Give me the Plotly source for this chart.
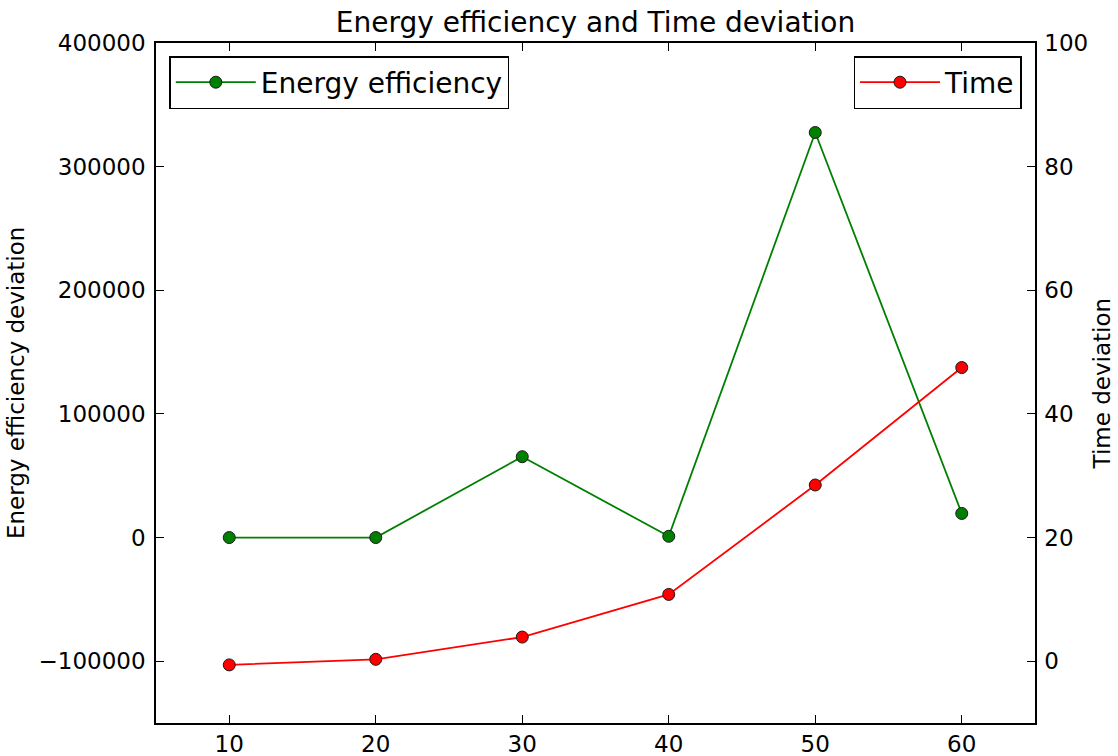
import plotly.graph_objects as go

# ---- data ----
x_vals = [10, 20, 30, 40, 50, 60]
energy_dev = [0, 0, 65400, 1000, 327600, 19500]
time_dev = [-0.6, 0.3, 3.9, 10.8, 28.5, 47.5]

title_text = "Energy efficiency and Time deviation"
left_label = "Energy efficiency deviation"
right_label = "Time deviation"
FONT = "DejaVu Sans"
TICK_SIZE = 23
BIG_SIZE = 28

fig = go.Figure()
fig.add_trace(go.Scatter(
    x=x_vals, y=energy_dev, mode="lines+markers", name="Energy efficiency",
    line=dict(color="#008000", width=1.8),
    marker=dict(color="#008000", size=12, line=dict(color="#1a1a1a", width=1)),
    yaxis="y", legend="legend",
))
fig.add_trace(go.Scatter(
    x=x_vals, y=time_dev, mode="lines+markers", name="Time",
    line=dict(color="#ff0000", width=1.8),
    marker=dict(color="#ff0000", size=12, line=dict(color="#1a1a1a", width=1)),
    yaxis="y2", legend="legend2",
))

axis_common = dict(
    showgrid=False, zeroline=False, showline=True, linecolor="black", linewidth=1.5,
    ticks="inside", ticklen=8, tickwidth=1, tickcolor="black", automargin=False,
    tickfont=dict(family=FONT, size=TICK_SIZE, color="black"),
)

legend_common = dict(
    yanchor="top", y=(723 - 56) / 680,
    bgcolor="white", bordercolor="black", borderwidth=1.5,
    font=dict(family=FONT, size=BIG_SIZE, color="black"), itemwidth=80,
)

fig.update_layout(
    width=1118, height=756,
    margin=dict(l=156, r=83, t=43, b=33, autoexpand=False),
    paper_bgcolor="white", plot_bgcolor="white",
    font=dict(family=FONT, size=TICK_SIZE, color="black"),
    title=dict(text=title_text, x=0.5, xref="paper", y=1 - 22 / 756, yref="container",
               xanchor="center", yanchor="middle",
               font=dict(family=FONT, size=BIG_SIZE, color="black")),
    xaxis=dict(range=[5, 65], dtick=10, tick0=0, mirror="ticks", **axis_common),
    yaxis=dict(range=[-150000, 400000], dtick=100000, tick0=0, tickformat="d",
               side="left", ticklabelstandoff=4, **axis_common),
    yaxis2=dict(range=[-10, 100], dtick=20, tick0=0, overlaying="y", side="right",
                ticklabelstandoff=3, **axis_common),
    showlegend=True,
    legend=dict(x=(169.3 - 156) / 879.5, xanchor="left", **legend_common),
    legend2=dict(x=(1022 - 156) / 879.5, xanchor="right", **legend_common),
    annotations=[
        dict(text=left_label, textangle=-90, xref="paper", yref="paper",
             x=(16 - 156) / 879.5, y=0.5, xanchor="center", yanchor="middle",
             showarrow=False, font=dict(family=FONT, size=TICK_SIZE, color="black")),
        dict(text=right_label, textangle=-90, xref="paper", yref="paper",
             x=(1103 - 156) / 879.5, y=0.5, xanchor="center", yanchor="middle",
             showarrow=False, font=dict(family=FONT, size=TICK_SIZE, color="black")),
    ],
)

fig.write_html("out.html")
